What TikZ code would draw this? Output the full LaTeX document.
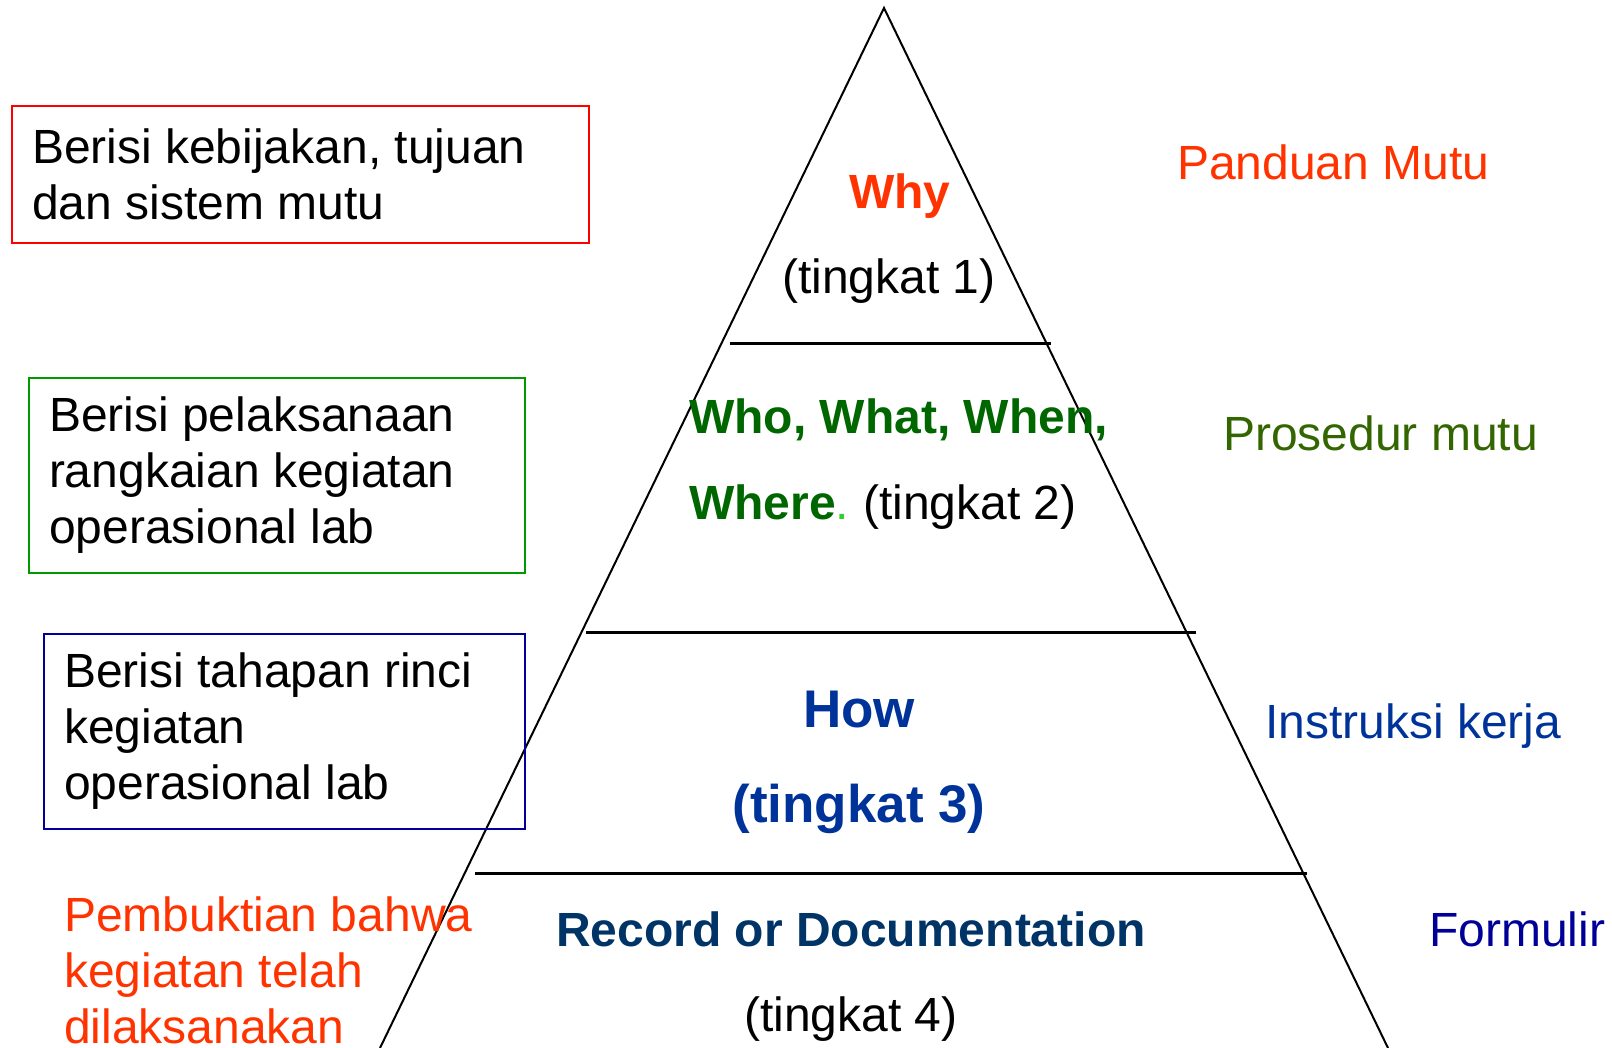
\documentclass[tikz,border=0pt]{standalone}
\usepackage{fontspec}
\setmainfont{Liberation Sans}
\usetikzlibrary{positioning}
\definecolor{oranye}{HTML}{FF3300}
\definecolor{hijautua}{HTML}{006600}
\definecolor{hijaumuda}{HTML}{33CC33}
\definecolor{zaitun}{HTML}{336600}
\definecolor{biru}{HTML}{003399}
\definecolor{nila}{HTML}{000099}
\definecolor{birutua}{HTML}{003366}
\definecolor{kotakmerah}{HTML}{FF0000}
\definecolor{kotakhijau}{HTML}{009900}
\definecolor{kotakbiru}{HTML}{000099}

\begin{document}
\begin{tikzpicture}[x=1pt,y=-1pt,
  teks/.style={inner sep=0pt,font=\fontsize{48}{56}\selectfont},
  kotak/.style={draw,line width=2pt,inner xsep=20pt,inner ysep=0pt,align=flush left,anchor=north west,font=\fontsize{48}{56}\selectfont}]
\useasboundingbox (0,0) rectangle (1612,1048);

% piramida
\draw[line width=2pt] (380,1048) -- (884,8) -- (1388,1048);
\draw[line width=3pt] (730,344) -- (1051,344);
\draw[line width=3pt] (586,632) -- (1196,632);
\draw[line width=3pt] (475,873) -- (1307,873);

% tingkat 1
\node[teks,anchor=base,text=oranye,font=\fontsize{48}{56}\selectfont\bfseries] (why) at (900,209) {Why};
\node[teks,anchor=base] (tingkat1) at (889,294) {(tingkat 1)};

% tingkat 2
\node[teks,anchor=base west,text=hijautua,font=\fontsize{48}{56}\selectfont\bfseries] (who) at (689,434) {Who, What, When,};
\node[teks,anchor=base west] (tingkat2) at (689,519) {{\bfseries\color{hijautua}Where}{\color{hijaumuda}.}\hspace{-4pt} (tingkat 2)};

% tingkat 3
\node[teks,anchor=base,text=biru,font=\fontsize{53}{60}\selectfont\bfseries] (how) at (859,727) {How};
\node[teks,anchor=base,text=biru,font=\fontsize{53}{60}\selectfont\bfseries] (tingkat3) at (859,822) {(tingkat 3)};

% tingkat 4
\node[teks,anchor=base,text=birutua,font=\fontsize{48}{56}\selectfont\bfseries] (record) at (851,946) {Record or Documentation};
\node[teks,anchor=base] (tingkat4) at (851,1031) {(tingkat 4)};

% nama dokumen
\node[teks,anchor=base west,text=oranye] (panduan) at (1177,180) {Panduan Mutu};
\node[teks,anchor=base west,text=zaitun] (prosedur) at (1223,450) {Prosedur mutu};
\node[teks,anchor=base west,text=biru] (instruksi) at (1265,738) {Instruksi kerja};
\node[teks,anchor=base west,text=nila] (formulir) at (1429,946) {Formulir};

% keterangan
\node[kotak,draw=kotakmerah,minimum width=577,minimum height=137,text width=537] (kebijakan) at (11,105) {Berisi kebijakan, tujuan\\dan sistem mutu};
\node[kotak,draw=kotakhijau,minimum width=496,minimum height=195,text width=456] (pelaksanaan) at (28,377) {Berisi pelaksanaan\\rangkaian kegiatan\\operasional lab};
\node[kotak,draw=kotakbiru,minimum width=481,minimum height=195,text width=441] (tahapan) at (43,633) {Berisi tahapan rinci\\kegiatan\\operasional lab};
\node[teks,anchor=base west,align=flush left,text=oranye] (bukti) at (64,1043) {Pembuktian bahwa\\kegiatan telah\\dilaksanakan};

\end{tikzpicture}
\end{document}
